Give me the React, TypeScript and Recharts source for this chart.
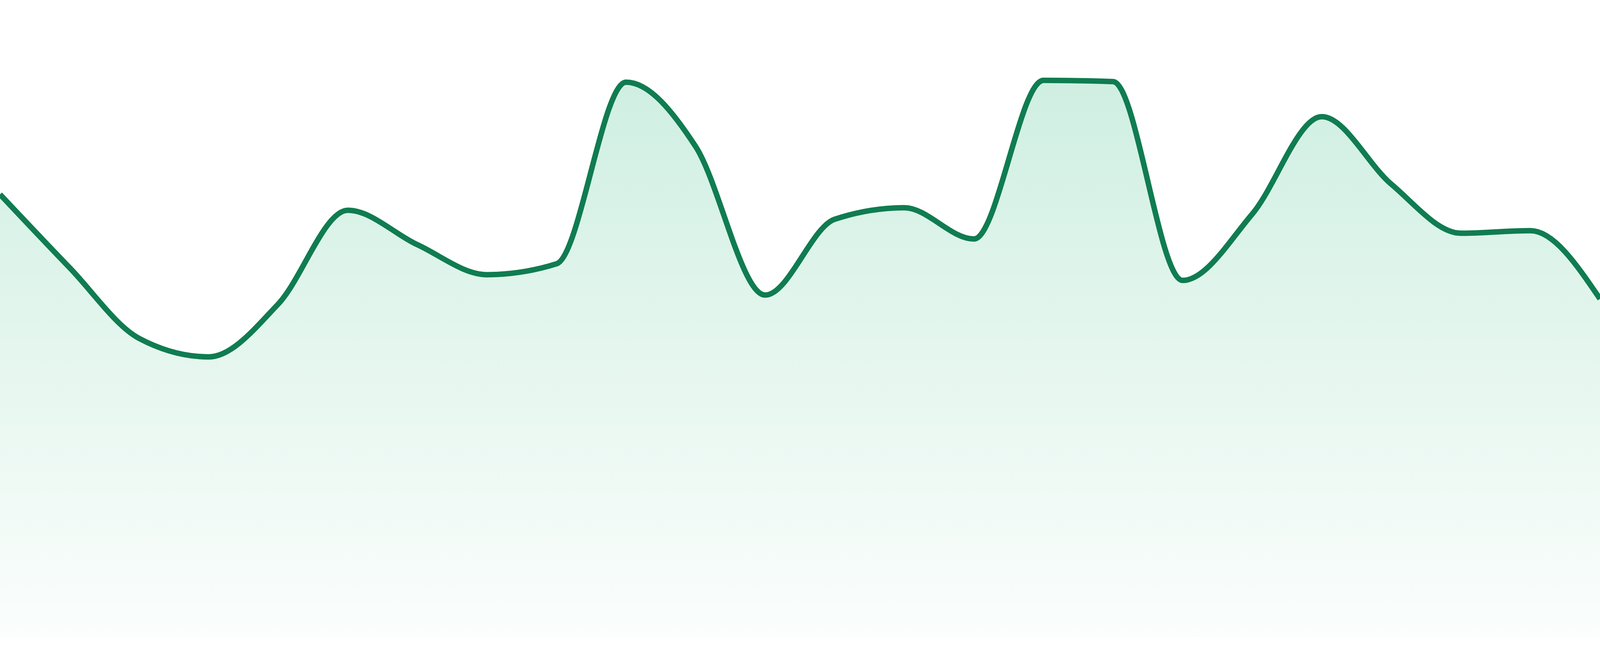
import { AreaChart, Area, XAxis, YAxis } from 'recharts';

// ── data ─────────────────────────────────────────────────────────────────────

const labels = [
  'P1', 'P2', 'P3', 'P4', 'P5', 'P6', 'P7', 'P8',
  'P9', 'P10', 'P11', 'P12', 'P13', 'P14', 'P15', 'P16',
  'P17', 'P18', 'P19', 'P20', 'P21', 'P22', 'P23', 'P24',
];

const values = [
  69.5, 58.0, 46.9, 44.0, 52.3, 67.0, 61.6, 56.9,
  58.6, 87.1, 77.0, 53.7, 65.6, 67.4, 62.5, 87.4,
  87.2, 56.0, 66.4, 81.7, 71.1, 63.4, 63.8, 53.1,
];

const yDomain = [0, 100];

const data = labels.map((name, i) => ({ name, value: values[i] }));

const LINE = '#107c51';
const FILL = '#2db87d';

// the browser caps the viewport below the requested 4800px, so fill whatever we get
const W = typeof window !== 'undefined' && window.innerWidth ? window.innerWidth : 4800;
const H = typeof window !== 'undefined' && window.innerHeight ? window.innerHeight : 1680;
const sy = H / 1680;

export default function App() {
  return (
    <div style={{ position: 'fixed', left: 0, top: 0, width: W, height: H, background: '#fff', overflow: 'hidden' }}>
      <style>{'html,body{margin:0;padding:0;overflow:hidden;}'}</style>
      <AreaChart width={W} height={H} data={data} margin={{ top: 0, right: 0, bottom: 48 * sy, left: 0 }}>
        <defs>
          <linearGradient id="fillGrad" x1="0" y1="0" x2="0" y2="1">
            <stop offset="0%" stopColor={FILL} stopOpacity={0.38} />
            <stop offset="100%" stopColor={FILL} stopOpacity={0.03} />
          </linearGradient>
        </defs>
        <XAxis dataKey="name" hide />
        <YAxis hide domain={yDomain} />
        <Area
          type="monotone"
          dataKey="value"
          stroke={LINE}
          strokeWidth={14 * sy}
          fill="url(#fillGrad)"
          dot={false}
          activeDot={false}
          isAnimationActive={false}
        />
      </AreaChart>
    </div>
  );
}
